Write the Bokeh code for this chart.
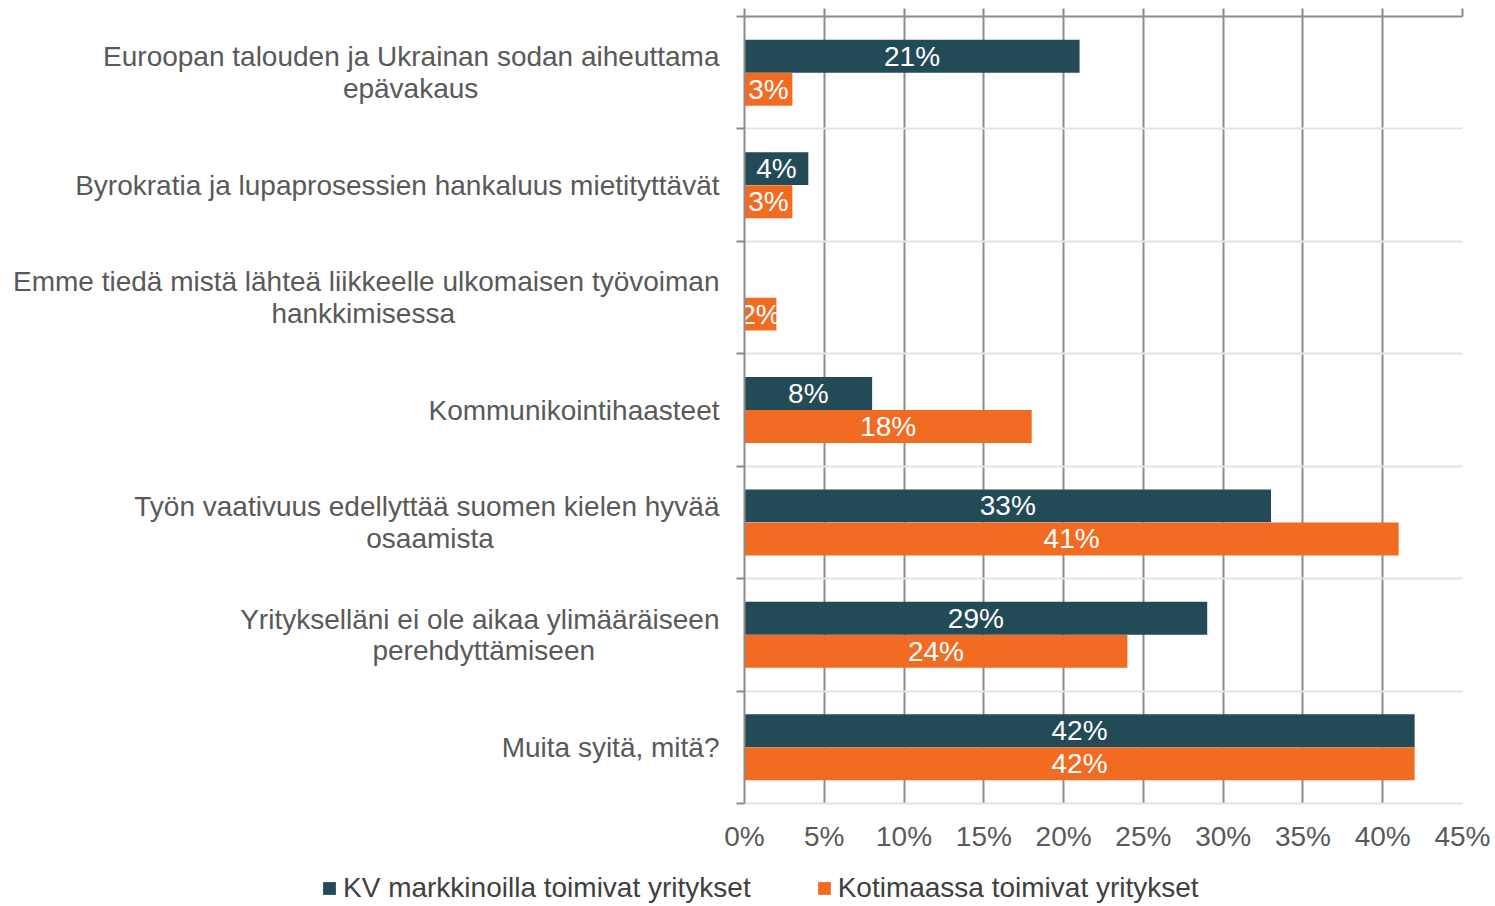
from bokeh.plotting import figure
from bokeh.layouts import column
from bokeh.models import Range1d, FixedTicker, Legend, LegendItem, ColumnDataSource, LinearAxis
from bokeh.embed import file_html
from bokeh.resources import INLINE
from bokeh.core.properties import value

categories = [
    "Euroopan talouden ja Ukrainan sodan aiheuttama\nepävakaus",
    "Byrokratia ja lupaprosessien hankaluus mietityttävät",
    "Emme tiedä mistä lähteä liikkeelle ulkomaisen työvoiman\nhankkimisessa",
    "Kommunikointihaasteet",
    "Työn vaativuus edellyttää suomen kielen hyvää\nosaamista",
    "Yritykselläni ei ole aikaa ylimääräiseen\nperehdyttämiseen",
    "Muita syitä, mitä?",
]
kv_values = [21, 4, 0, 8, 33, 29, 42]
koti_values = [3, 3, 2, 18, 41, 24, 42]
series_names = ["KV markkinoilla toimivat yritykset", "Kotimaassa toimivat yritykset"]
x_ticks = [0, 5, 10, 15, 20, 25, 30, 35, 40, 45]
x_tick_labels = ["0%", "5%", "10%", "15%", "20%", "25%", "30%", "35%", "40%", "45%"]

KV_COLOR = "#234a57"
KOTI_COLOR = "#f26b23"
FONT = "Liberation Sans"
GRID = "#8c8c8c"
FS = "28px"
W = 1492

# approximate Arial/Liberation Sans advance widths (per 1000 em) used to
# centre the second line of wrapped labels inside a right-aligned block
_W = {c: 556 for c in "abdeghnopquäöå0123456789?"}
_W.update({c: 500 for c in "cksvxyz"})
_W.update({c: 222 for c in "ijl"})
_W.update({"f": 278, "t": 278, "r": 333, "m": 833, "w": 722, " ": 278, ",": 278,
           "E": 667, "B": 667, "U": 722, "T": 611, "Y": 667, "K": 667, "M": 833})


def _width(s):
    return sum(_W.get(ch, 556) for ch in s)


def centre_lines(label):
    lines = label.split("\n")
    if len(lines) == 1:
        return label
    w0 = max(_width(l) for l in lines)
    out = []
    for l in lines:
        pad = int(round((w0 - _width(l)) / 2 / 278))
        out.append(l + "\u00a0" * pad)
    return "\n".join(out)


n = len(categories)
bar_h = 0.293
off = 0.147
centers = [i + 0.5 for i in range(n)]
boundaries = list(range(0, n + 1))

kv_src = ColumnDataSource(dict(
    y=[c - off for c in centers], right=kv_values,
    xm=[v / 2 for v in kv_values],
    lab=[f"{v}%" if v > 0 else "" for v in kv_values]))
koti_src = ColumnDataSource(dict(
    y=[c + off for c in centers], right=koti_values,
    xm=[v / 2 for v in koti_values],
    lab=[f"{v}%" if v > 0 else "" for v in koti_values]))

p = figure(width=W, height=858, output_backend="svg", toolbar_location=None,
           x_range=Range1d(0, 45), y_range=Range1d(n, 0),
           min_border_left=744, min_border_right=30, min_border_top=16, min_border_bottom=55,
           outline_line_color=None, x_axis_location="below", y_axis_location=None)
p.background_fill_color = "white"
p.frame_align = False

# grids
p.xgrid.ticker = FixedTicker(ticks=x_ticks)
p.xgrid.grid_line_color = GRID
p.xgrid.grid_line_width = 2
p.ygrid.ticker = FixedTicker(ticks=boundaries[1:])
p.ygrid.grid_line_color = "#e3e3e3"
p.ygrid.grid_line_width = 2

# bottom x axis
xa = p.xaxis[0]
xa.ticker = FixedTicker(ticks=x_ticks)
xa.major_label_overrides = {t: l for t, l in zip(x_ticks, x_tick_labels)}
xa.major_label_text_font = FONT
xa.major_label_text_font_size = FS
xa.major_label_text_color = "#595959"
xa.major_label_standoff = 17
xa.major_tick_out = 0
xa.major_tick_in = 0
xa.minor_tick_out = 0
xa.minor_tick_in = 0
xa.axis_line_color = "#e3e3e3"
xa.axis_line_width = 2

# top axis: dark line with small (minor) ticks, no labels
top = LinearAxis(ticker=FixedTicker(ticks=[], minor_ticks=x_ticks),
                 major_tick_out=0, major_tick_in=0, major_label_standoff=0,
                 minor_tick_out=8, minor_tick_in=0,
                 minor_tick_line_color=GRID, minor_tick_line_width=2,
                 axis_line_color=GRID, axis_line_width=2)
p.add_layout(top, "above")

# left axis: dark line, boundary (minor) ticks, category labels at centres
left = LinearAxis(ticker=FixedTicker(ticks=centers, minor_ticks=boundaries),
                  major_label_overrides={c: centre_lines(t) for c, t in zip(centers, categories)},
                  major_label_text_font=FONT, major_label_text_font_size=FS,
                  major_label_text_color="#595959", major_label_standoff=17,
                  major_label_text_line_height=1.02,
                  major_tick_out=0, major_tick_in=0, major_tick_line_color=None,
                  minor_tick_out=8, minor_tick_in=0,
                  minor_tick_line_color=GRID, minor_tick_line_width=2,
                  axis_line_color=GRID, axis_line_width=2)
p.add_layout(left, "left")

p.hbar(y="y", right="right", left=0, height=bar_h, source=kv_src,
       fill_color=KV_COLOR, line_color=None)
p.hbar(y="y", right="right", left=0, height=bar_h, source=koti_src,
       fill_color=KOTI_COLOR, line_color=None)

for src in (kv_src, koti_src):
    p.text(x="xm", y="y", text="lab", source=src, text_color="white",
           text_font=value(FONT), text_font_size=FS,
           text_align="center", text_baseline="middle")

# legend strip below the chart (its own small figure; its bars lie outside its view)
lg = figure(width=W, height=46, output_backend="svg", toolbar_location=None,
            x_range=Range1d(0, 45), y_range=Range1d(100, 101),
            min_border=0, outline_line_color=None, x_axis_location=None, y_axis_location=None)
lg.frame_align = False
lg.xgrid.visible = False
lg.ygrid.visible = False
l1 = lg.hbar(y="y", right="right", left=0, height=bar_h, source=kv_src,
             fill_color=KV_COLOR, line_color=None)
l2 = lg.hbar(y="y", right="right", left=0, height=bar_h, source=koti_src,
             fill_color=KOTI_COLOR, line_color=None)
legend = Legend(items=[LegendItem(label=series_names[0], renderers=[l1]),
                       LegendItem(label=series_names[1], renderers=[l2])],
                orientation="horizontal", location=(321, 0),
                glyph_height=16, glyph_width=16, label_standoff=6, spacing=65,
                label_text_font=FONT, label_text_font_size=FS,
                label_text_color="#404040", padding=0, margin=0,
                border_line_color=None, background_fill_alpha=0)
lg.add_layout(legend, "center")

open("out.html", "w").write(file_html(column(p, lg, spacing=0), INLINE))
